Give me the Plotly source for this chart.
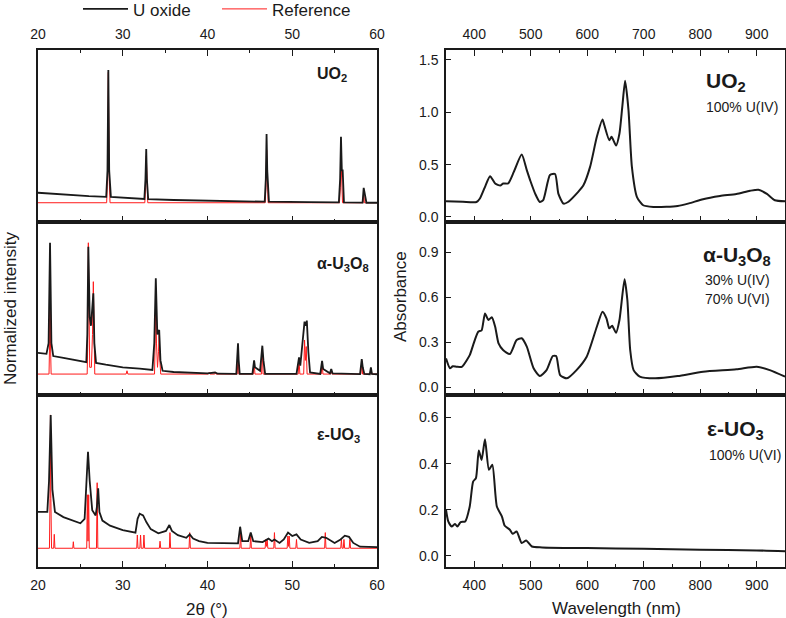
import plotly.graph_objects as go

# ---------------- DATA ----------------
# XRD (normalized intensity, offset so that each panel spans 0..1)
uo2_xrd_tth = [20, 22, 24, 26, 28.05, 28.2, 28.3, 28.4, 28.6, 32.55, 32.68, 32.77, 32.85, 33.0, 36, 40, 44,
               46.75, 46.88, 46.97, 47.05, 47.1, 47.25, 52, 55.5, 55.65, 55.75, 55.85, 55.95, 56.1,
               58.3, 58.43, 58.55, 58.6, 58.75, 60]
uo2_xrd_int = [0.17, 0.162, 0.155, 0.15, 0.146, 0.3, 0.884, 0.3, 0.146, 0.134, 0.25, 0.424, 0.25, 0.133, 0.128, 0.125, 0.12,
               0.118, 0.25, 0.512, 0.3, 0.23, 0.118, 0.115, 0.114, 0.25, 0.496, 0.3, 0.3, 0.114,
               0.113, 0.198, 0.16, 0.16, 0.112, 0.112]
uo2_ref_tth = [20, 28.1, 28.2, 28.3, 28.4, 28.5, 32.6, 32.7, 32.78, 32.86, 32.95, 46.8, 46.9, 46.98, 47.06, 47.15,
               55.57, 55.67, 55.75, 55.83, 55.93, 58.35, 58.43, 58.51, 60]
uo2_ref_int = [0.112, 0.112, 0.25, 0.87, 0.25, 0.112, 0.112, 0.2, 0.384, 0.2, 0.112, 0.112, 0.2, 0.419, 0.2, 0.112,
               0.112, 0.2, 0.38, 0.2, 0.112, 0.112, 0.175, 0.112, 0.112]

u3o8_xrd_tth = [20, 21.0, 21.25, 21.42, 21.58, 21.8, 23, 25, 25.7, 25.82, 25.94, 26.1, 26.25, 26.4, 26.53, 26.65, 26.85,
                28, 30, 32, 33.5, 33.72, 33.9, 34.08, 34.3, 34.45, 34.7, 36, 38, 40, 40.9, 41.2, 43.4, 43.52, 43.6,
                43.68, 43.8, 45.3, 45.42, 45.5, 45.6, 46.2, 46.35, 46.47, 46.6, 46.8, 50.5, 50.65, 50.8, 50.95,
                51.2, 51.45, 51.6, 51.72, 51.9, 52.1, 53.3, 53.42, 53.52, 53.65, 54.45, 54.6, 54.75, 58.0, 58.12,
                58.2, 58.32, 58.5, 59.15, 59.28, 59.4, 60]
u3o8_xrd_int = [0.243, 0.238, 0.3, 0.88, 0.3, 0.225, 0.215, 0.195, 0.19, 0.35, 0.857, 0.45, 0.4, 0.5, 0.588, 0.3, 0.185,
                0.175, 0.16, 0.152, 0.145, 0.3, 0.675, 0.35, 0.376, 0.2, 0.14, 0.133, 0.128, 0.125, 0.13, 0.123, 0.122,
                0.2, 0.299, 0.2, 0.122, 0.122, 0.17, 0.2, 0.16, 0.14, 0.22, 0.285, 0.2, 0.122, 0.122, 0.17, 0.218,
                0.17, 0.3, 0.424, 0.4, 0.43, 0.25, 0.13, 0.122, 0.17, 0.197, 0.15, 0.125, 0.15, 0.125, 0.121, 0.17,
                0.208, 0.16, 0.122, 0.12, 0.16, 0.122, 0.12]
u3o8_ref_tth = [20, 21.3, 21.37, 21.42, 21.47, 21.55, 25.8, 25.87, 25.94, 26.01, 26.1, 26.3, 26.43, 26.53, 26.61, 26.7,
                30.4, 30.5, 30.6, 33.75, 33.82, 33.9, 33.98, 34.1, 34.22, 34.3, 34.38, 34.48, 40.1, 40.2, 40.3,
                40.85, 40.93, 41.0, 43.5, 43.57, 43.63, 43.7, 45.4, 45.5, 45.6, 46.38, 46.47, 46.56, 50.7, 50.8,
                50.9, 51.35, 51.45, 51.55, 51.65, 51.75, 53.42, 53.52, 53.62, 54.5, 54.6, 54.7, 58.1, 58.2, 58.3,
                59.2, 59.3, 59.4, 60]
u3o8_ref_int = [0.121, 0.121, 0.3, 0.82, 0.3, 0.121, 0.121, 0.3, 0.88, 0.3, 0.16, 0.16, 0.35, 0.655, 0.3, 0.121,
                0.121, 0.14, 0.121, 0.121, 0.3, 0.62, 0.3, 0.16, 0.25, 0.35, 0.2, 0.121, 0.121, 0.13, 0.121,
                0.121, 0.13, 0.121, 0.121, 0.18, 0.23, 0.121, 0.121, 0.19, 0.121, 0.121, 0.27, 0.121, 0.121, 0.2,
                0.121, 0.121, 0.318, 0.2, 0.28, 0.121, 0.121, 0.19, 0.121, 0.121, 0.14, 0.121, 0.121, 0.2, 0.121,
                0.121, 0.15, 0.121, 0.121]

uo3_xrd_tth = [20, 21.1, 21.3, 21.5, 21.7, 22, 23, 24, 25, 25.5, 25.75, 25.9, 26.1, 26.4, 26.8, 26.95, 27.1, 27.25,
               27.6, 28.5, 30, 31.5, 31.75, 32.0, 32.4, 32.8, 33.3, 34.2, 35.1, 35.5, 35.8, 36.5, 37.5, 37.9, 38.3,
               39, 40, 43.6, 43.85, 44.1, 44.8, 45.1, 45.4, 46.5, 47.2, 47.6, 47.9, 48.5, 49.0, 49.5, 50.0, 50.5,
               51, 52, 53, 53.5, 54, 55, 55.7, 56.2, 56.7, 57.2, 58, 60]
uo3_xrd_int = [0.32, 0.32, 0.5, 0.884, 0.45, 0.32, 0.29, 0.27, 0.254, 0.28, 0.5, 0.67, 0.5, 0.33, 0.3, 0.35, 0.457, 0.32,
               0.27, 0.24, 0.215, 0.2, 0.28, 0.31, 0.3, 0.26, 0.22, 0.196, 0.21, 0.244, 0.21, 0.185, 0.17, 0.19, 0.165,
               0.15, 0.14, 0.137, 0.234, 0.15, 0.15, 0.2, 0.15, 0.145, 0.165, 0.15, 0.16, 0.14, 0.16, 0.2, 0.18, 0.19,
               0.16, 0.14, 0.15, 0.175, 0.17, 0.14, 0.16, 0.182, 0.175, 0.14, 0.118, 0.115]
uo3_ref_tth = [20, 21.35, 21.42, 21.47, 21.52, 21.6, 21.85, 21.92, 22.0, 24.1, 24.17, 24.24, 25.75, 25.82, 25.9, 25.98,
               26.05, 26.9, 26.98, 27.06, 31.65, 31.72, 31.8, 32.02, 32.1, 32.18, 32.42, 32.5, 32.58, 34.32, 34.4,
               34.48, 35.5, 35.57, 35.65, 37.82, 37.9, 37.98, 43.82, 43.9, 43.98, 45.02, 45.1, 45.18, 46.8, 46.88,
               46.96, 47.04, 47.12, 47.82, 47.9, 47.98, 49.4, 49.48, 49.56, 49.64, 49.72, 50.42, 50.5, 50.58, 53.82,
               53.9, 53.98, 55.72, 55.8, 55.88, 56.02, 56.1, 56.18, 56.72, 56.8, 56.88, 60]
uo3_ref_int = [0.109, 0.109, 0.4, 0.884, 0.4, 0.109, 0.109, 0.19, 0.109, 0.109, 0.147, 0.109, 0.109, 0.42, 0.15, 0.42,
               0.109, 0.109, 0.49, 0.109, 0.109, 0.186, 0.109, 0.109, 0.186, 0.109, 0.109, 0.186, 0.109, 0.109, 0.15,
               0.109, 0.109, 0.2, 0.109, 0.109, 0.2, 0.109, 0.109, 0.2, 0.109, 0.109, 0.19, 0.109, 0.109, 0.16,
               0.12, 0.16, 0.109, 0.109, 0.2, 0.109, 0.109, 0.18, 0.12, 0.18, 0.109, 0.109, 0.16, 0.109, 0.109,
               0.2, 0.109, 0.109, 0.16, 0.109, 0.109, 0.16, 0.109, 0.109, 0.16, 0.109, 0.109]

# UV-vis absorbance
uo2_wl = [350, 380, 404, 410, 420, 428, 437, 446, 451, 460, 470, 484, 493, 499, 508, 516, 522, 534, 543, 549, 558, 566,
          584, 593, 605, 617, 627, 630, 639, 643, 651, 657, 662, 667, 673, 679, 688, 699, 717, 740, 760, 780, 805,
          835, 864, 888, 903, 918, 932, 950]
uo2_abs = [0.15, 0.145, 0.143, 0.176, 0.30, 0.389, 0.32, 0.30, 0.32, 0.32, 0.43, 0.596, 0.447, 0.35, 0.22, 0.143, 0.16,
           0.40, 0.41, 0.22, 0.128, 0.143, 0.24, 0.30, 0.478, 0.765, 0.93, 0.88, 0.733, 0.765, 0.682, 0.797, 1.05,
           1.30, 1.02, 0.478, 0.19, 0.112, 0.096, 0.097, 0.105, 0.13, 0.17, 0.2, 0.22, 0.25, 0.26, 0.22, 0.16, 0.15]

u3o8_wl = [350, 357, 362, 369, 378, 392, 398, 407, 413, 419, 425, 431, 437, 443, 451, 463, 475, 484, 493, 505, 516, 528,
           539, 545, 552, 564, 581, 599, 617, 627, 634, 639, 644, 651, 657, 666, 671, 676, 682, 693, 720, 760, 805,
           864, 900, 923, 950]
u3o8_abs = [0.193, 0.127, 0.14, 0.137, 0.137, 0.215, 0.282, 0.371, 0.38, 0.493, 0.449, 0.467, 0.404, 0.293, 0.249,
            0.222, 0.315, 0.327, 0.271, 0.127, 0.075, 0.115, 0.209, 0.209, 0.082, 0.06, 0.115, 0.204, 0.404, 0.504,
            0.46, 0.393, 0.41, 0.364, 0.449, 0.72, 0.582, 0.249, 0.115, 0.071, 0.06, 0.075, 0.104, 0.12, 0.137,
            0.115, 0.071]

uo3_wl = [350, 354, 360, 366, 370, 376, 384, 392, 398, 403, 408, 413, 419, 426, 432, 440, 449, 454, 463, 468, 475, 484,
          492, 502, 520, 600, 700, 800, 900, 950]
uo3_abs = [0.2, 0.149, 0.127, 0.138, 0.127, 0.146, 0.149, 0.214, 0.322, 0.337, 0.457, 0.416, 0.506, 0.373, 0.395,
           0.214, 0.17, 0.13, 0.113, 0.095, 0.105, 0.055, 0.066, 0.04, 0.036, 0.033, 0.03, 0.026, 0.023, 0.019]

xrd_ticks = [20, 30, 40, 50, 60]
wl_ticks = [400, 500, 600, 700, 800, 900]

# ---------------- LAYOUT HELPERS ----------------
W, H = 786, 618
def fx(px):
    return px / W
def fy(py):
    return 1 - py / H

FONT = "Liberation Sans, Arial, sans-serif"
BLACK = "#1a1a1a"
RED = "#ff1a1a"

fig = go.Figure()

xrd = [(uo2_xrd_tth, uo2_xrd_int, uo2_ref_tth, uo2_ref_int),
       (u3o8_xrd_tth, u3o8_xrd_int, u3o8_ref_tth, u3o8_ref_int),
       (uo3_xrd_tth, uo3_xrd_int, uo3_ref_tth, uo3_ref_int)]
for i, (bx, by, rx, ry) in enumerate(xrd):
    ax = "" if i == 0 else str(i + 1)
    fig.add_trace(go.Scatter(x=rx, y=ry, mode="lines", line=dict(color=RED, width=1),
                             name="Reference", showlegend=(i == 0), legendrank=2,
                             xaxis="x" + ax, yaxis="y" + ax))
    fig.add_trace(go.Scatter(x=bx, y=by, mode="lines", line=dict(color=BLACK, width=1.8),
                             name="U oxide", showlegend=(i == 0), legendrank=1,
                             xaxis="x" + ax, yaxis="y" + ax))

uv = [(uo2_wl, uo2_abs), (u3o8_wl, u3o8_abs), (uo3_wl, uo3_abs)]
for i, (wx, wy) in enumerate(uv):
    ax = str(i + 4)
    fig.add_trace(go.Scatter(x=wx, y=wy, mode="lines", line=dict(color=BLACK, width=2, shape="spline", smoothing=0.6),
                             showlegend=False, xaxis="x" + ax, yaxis="y" + ax))

panel_px = [(50, 222), (222, 395), (395, 567)]
left_x = (38, 377)
right_x = (446, 785)
right_ranges = [(-0.048, 1.594, 0.5), (-0.051, 1.102, 0.3), (-0.049, 0.698, 0.2)]

common_axis = dict(showline=True, linecolor=BLACK, linewidth=1.5, showgrid=False, zeroline=False,
                   ticks="inside", tickcolor=BLACK, tickwidth=1.2, automargin=False,
                   tickfont=dict(family=FONT, size=14, color=BLACK))

layout = {}
for i in range(3):
    top, bot = panel_px[i]
    ydom = [fy(bot), fy(top)]
    # left XRD
    ax = "" if i == 0 else str(i + 1)
    xa = dict(common_axis, domain=[fx(left_x[0]), fx(left_x[1])], range=[20, 60], anchor="y" + ax,
              tickvals=xrd_ticks, ticklen=6,
              minor=dict(dtick=5, tick0=0, ticks="inside", ticklen=3.5, tickcolor=BLACK, tickwidth=1.2))
    if i == 0:
        xa.update(side="top", mirror="ticks", showticklabels=True, ticklabelstandoff=4)
    elif i == 1:
        xa.update(side="bottom", mirror=True, showticklabels=False)
    else:
        xa.update(side="bottom", mirror=True, showticklabels=True, ticklabelstandoff=4)
    layout["xaxis" + ax] = xa
    layout["yaxis" + ax] = dict(showline=True, linecolor=BLACK, linewidth=1.5, mirror=True, showgrid=False,
                                zeroline=False, ticks="", showticklabels=False, domain=ydom, range=[0, 1],
                                anchor="x" + ax, automargin=False)
    # right UV-vis
    ax2 = str(i + 4)
    xb = dict(common_axis, domain=[fx(right_x[0]), fx(right_x[1])], range=[350, 950], anchor="y" + ax2,
              tickvals=wl_ticks, ticklen=6,
              minor=dict(dtick=50, tick0=0, ticks="inside", ticklen=3.5, tickcolor=BLACK, tickwidth=1.2))
    if i == 0:
        xb.update(side="top", mirror="ticks", showticklabels=True, ticklabelstandoff=4)
    elif i == 1:
        xb.update(side="bottom", mirror=True, showticklabels=False)
    else:
        xb.update(side="bottom", mirror=True, showticklabels=True, ticklabelstandoff=4)
    layout["xaxis" + ax2] = xb
    lo, hi, dt = right_ranges[i]
    layout["yaxis" + ax2] = dict(common_axis, mirror=True, domain=ydom, range=[lo, hi], dtick=dt, tick0=0,
                                 tickformat=".1f", ticklen=5.5, anchor="x" + ax2, ticklabelstandoff=3)

fig.update_layout(**layout)

ann = []
def add_text(text, px, py, size, xanchor="left", yanchor="middle", angle=0):
    ann.append(dict(text=text, x=fx(px), y=fy(py), xref="paper", yref="paper", showarrow=False,
                    xanchor=xanchor, yanchor=yanchor, textangle=angle,
                    font=dict(family=FONT, size=size, color=BLACK)))

# axis titles
add_text("Normalized intensity", 10, 308, 17, xanchor="center", angle=-90)
add_text("Absorbance", 400, 297, 17, xanchor="center", angle=-90)
add_text("2θ (°)", 207, 609, 17, xanchor="center")
add_text("Wavelength (nm)", 616, 608, 17, xanchor="center")

# left compound labels
add_text("<b>UO<sub>2</sub></b>", 315, 74, 16)
add_text("<b>α-U<sub>3</sub>O<sub>8</sub></b>", 315, 264, 16)
add_text("<b>ε-UO<sub>3</sub></b>", 315, 436, 16)

# right compound labels
add_text("<b>UO<sub>2</sub></b>", 704, 82, 21)
add_text("100% U(IV)", 704, 107, 14)
add_text("<b>α-U<sub>3</sub>O<sub>8</sub></b>", 701, 256, 21)
add_text("30% U(IV)", 703, 280, 14)
add_text("70% U(VI)", 703, 299, 14)
add_text("<b>ε-UO<sub>3</sub></b>", 705, 430, 21)
add_text("100% U(VI)", 707, 455, 14)

fig.update_layout(
    width=W, height=H, margin=dict(l=0, r=0, t=0, b=0, autoexpand=False),
    paper_bgcolor="white", plot_bgcolor="white",
    annotations=ann,
    showlegend=True,
    legend=dict(orientation="h", x=fx(78), y=1.014, xanchor="left", yanchor="top",
                font=dict(family=FONT, size=17, color=BLACK), itemwidth=45,
                entrywidth=79, bgcolor="rgba(0,0,0,0)", traceorder="normal"),
)

fig.write_html("out.html")
